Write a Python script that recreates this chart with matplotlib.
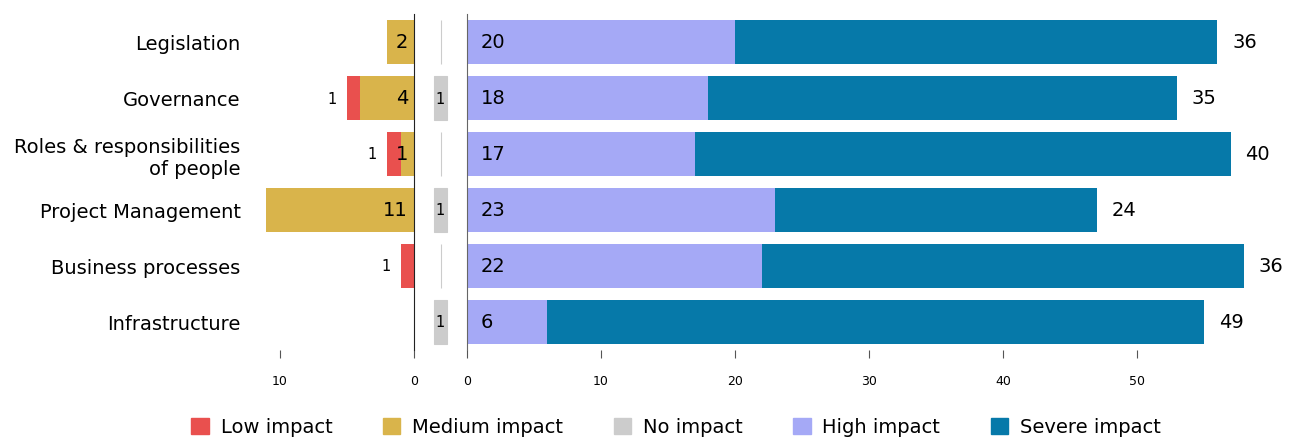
import matplotlib.pyplot as plt
import numpy as np

categories = ['Legislation', 'Governance', 'Roles & responsibilities\nof people',
              'Project Management', 'Business processes', 'Infrastructure']
low = [0, 1, 1, 0, 1, 0]
medium = [2, 4, 1, 11, 0, 0]
no_impact = [0, 1, 0, 1, 0, 1]
high = [20, 18, 17, 23, 22, 6]
severe = [36, 35, 40, 24, 36, 49]

c_low = '#e9504e'
c_med = '#d9b44b'
c_no = '#cccccc'
c_high = '#a5a9f6'
c_sev = '#0679a9'

plt.rcParams['font.family'] = 'DejaVu Sans'

W, H = 1293, 439
fig = plt.figure(figsize=(W / 100, H / 100), dpi=100)
top, bot = 15, 351
def box(x0, x1):
    return [x0 / W, 1 - bot / H, (x1 - x0) / W, (bot - top) / H]

ax_m = fig.add_axes(box(414, 467))
ax_l = fig.add_axes(box(253, 414))
ax_r = fig.add_axes(box(467, 1271))
for ax in (ax_l, ax_m, ax_r):
    ax.set_facecolor('none')

y = np.arange(len(categories))
h = 0.8

# left: low + medium, drawn towards the left
ax_l.barh(y, medium, height=h, color=c_med)
ax_l.barh(y, low, left=medium, height=h, color=c_low)
ax_l.set_xlim(12, 0)
for i in range(len(y)):
    if medium[i]:
        ax_l.text(0.45, y[i], str(medium[i]), ha='right', va='center', fontsize=14)
    if low[i]:
        ax_l.text(medium[i] + low[i] + 0.75, y[i], str(low[i]), ha='right',
                  va='center', fontsize=10.5)

# middle: no impact, centred
no_arr = np.array(no_impact, dtype=float)
ax_m.barh(y, no_arr, left=-no_arr / 2, height=h, color=c_no,
          edgecolor=c_no, linewidth=0.8)
ax_m.set_xlim(-1.9, 1.9)
for i in range(len(y)):
    if no_impact[i]:
        ax_m.text(0, y[i], str(no_impact[i]), ha='center', va='center', fontsize=10.5)

# right: high + severe
ax_r.barh(y, high, height=h, color=c_high)
ax_r.barh(y, severe, left=high, height=h, color=c_sev)
ax_r.set_xlim(0, 60)
for i in range(len(y)):
    ax_r.text(1.0, y[i], str(high[i]), ha='left', va='center', fontsize=14)
    ax_r.text(high[i] + severe[i] + 1.1, y[i], str(severe[i]), ha='left',
              va='center', fontsize=14)

for ax in (ax_l, ax_m, ax_r):
    ax.set_ylim(len(y) - 0.5, -0.5)
    for s in ax.spines.values():
        s.set_visible(False)
    ax.tick_params(axis='x', length=6, width=0.8, color='#555555',
                   labelsize=9, pad=11)

ax_l.spines['right'].set_visible(True)
ax_l.spines['right'].set_color('#222222')
ax_l.set_xticks([10, 0])
ax_l.set_yticks(y)
ax_l.set_yticklabels(categories, fontsize=14, linespacing=1.2)
ax_l.tick_params(axis='y', length=0, pad=9)

ax_m.set_xticks([])
ax_m.set_yticks([])

ax_r.spines['left'].set_visible(True)
ax_r.spines['left'].set_color('#666666')
ax_r.set_xticks([0, 10, 20, 30, 40, 50])
ax_r.set_yticks([])

handles = [plt.Rectangle((0, 0), 1, 1, color=c) for c in (c_low, c_med, c_no, c_high, c_sev)]
fig.legend(handles, ['Low impact', 'Medium impact', 'No impact', 'High impact', 'Severe impact'],
           loc='center', bbox_to_anchor=(676 / W, 1 - 428 / H), ncol=5, frameon=False,
           fontsize=14, handlelength=0.9, handleheight=0.9, columnspacing=2.6,
           handletextpad=0.6)

fig.savefig('out.png', dpi=100)
